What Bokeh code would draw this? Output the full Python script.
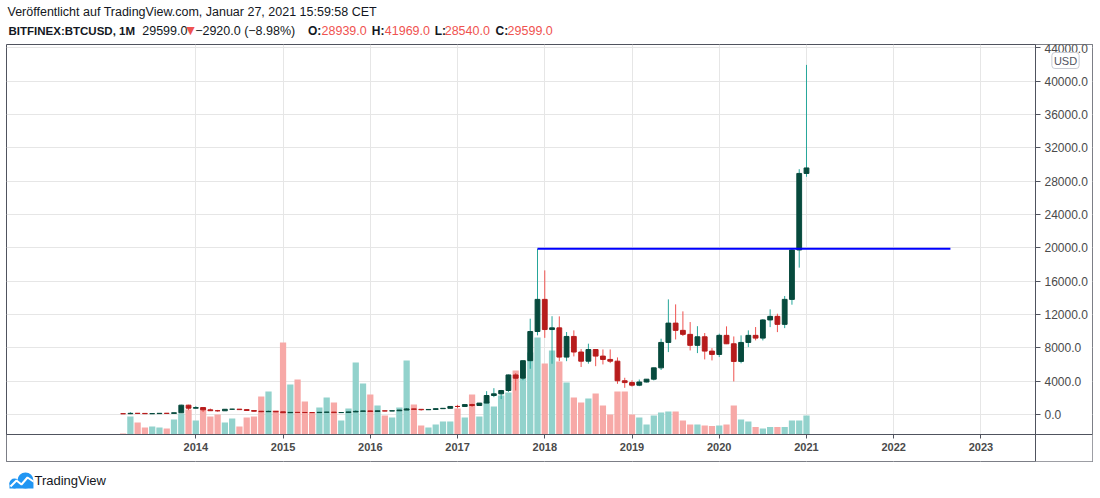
import pandas as pd
from bokeh.plotting import figure
from bokeh.models import (Range1d, FixedTicker, PrintfTickFormatter, Label, LinearAxis, Grid,
                          ColumnDataSource)
from bokeh.layouts import column
from bokeh.embed import file_html
from bokeh.resources import INLINE
from bokeh.core.properties import value

# ---------------- data (monthly BITFINEX:BTCUSD, Mar 2013 .. Jan 2021) ----------------
months = pd.date_range("2013-03-01", "2021-01-01", freq="MS").strftime("%Y-%m").tolist()

opens = [95, 93, 139, 129, 97, 106, 141, 133, 206, 1120,
         754, 830, 560, 455, 445, 627, 640, 585, 478, 388, 338, 378,
         320, 218, 254, 244, 236, 230, 263, 284, 230, 236, 314, 377,
         430, 369, 437, 416, 448, 531, 672, 620, 573, 605, 700, 742,
         965, 962, 1190, 1080, 1370, 2280, 2480, 2880, 4750, 4360, 6460, 9960,
         13820, 10200, 10400, 6890, 9370, 7500, 6400, 7800, 7010, 6610, 6400, 4050,
         3830, 3520, 3900, 4240, 5600, 8650, 10970, 10100, 9620, 8300, 9330, 7610,
         7210, 9500, 8490, 6370, 8650, 9500, 9170, 11350, 11780, 10820, 13820, 19750,
         28939]
highs = [100, 266, 140, 129, 111, 141, 145, 218, 1175, 1165,
         1000, 850, 710, 550, 630, 680, 655, 600, 490, 415, 460, 390,
         320, 270, 300, 260, 248, 268, 317, 288, 243, 333, 500, 470,
         463, 447, 440, 468, 550, 780, 705, 630, 620, 720, 750, 975,
         1155, 1200, 1300, 1380, 2800, 3160, 2950, 4800, 4975, 6470, 11500, 19891,
         17300, 11800, 11780, 9900, 10100, 7850, 8500, 7850, 7810, 7810, 6850, 4410,
         4100, 4200, 4250, 5620, 9100, 13820, 13220, 12380, 11100, 10600, 9780, 7970,
         9700, 10580, 9370, 9500, 10100, 10500, 11450, 12620, 12100, 14220, 19900, 29450,
         41969]
lows = [88, 50, 79, 88, 65, 100, 110, 120, 197, 522,
        740, 300, 440, 340, 420, 550, 565, 450, 350, 275, 315, 300,
        165, 210, 236, 215, 225, 222, 250, 197, 225, 236, 305, 350,
        350, 365, 400, 412, 440, 525, 605, 470, 570, 605, 680, 740,
        750, 920, 900, 1070, 1360, 2080, 1850, 2700, 2880, 4120, 5490, 9500,
        9200, 6090, 6400, 6400, 6970, 5700, 6100, 5800, 6010, 6170, 3680, 3200,
        3350, 3400, 3850, 4090, 5340, 7490, 9010, 9420, 7690, 7370, 6610, 6490,
        6890, 8450, 3970, 6150, 8090, 8900, 8890, 10490, 9890, 10370, 13180, 17630,
        28540]
closes = [93, 139, 129, 97, 106, 141, 133, 206, 1120, 754,
          830, 560, 455, 445, 627, 640, 585, 478, 388, 338, 378, 320,
          218, 254, 244, 236, 230, 263, 284, 230, 236, 314, 377, 430,
          369, 437, 416, 448, 531, 672, 620, 573, 605, 700, 742, 965,
          962, 1190, 1080, 1370, 2280, 2480, 2880, 4750, 4360, 6460, 9960, 13820,
          10200, 10400, 6890, 9370, 7500, 6400, 7800, 7010, 6610, 6400, 4050, 3830,
          3520, 3900, 4240, 5600, 8650, 10970, 10100, 9620, 8300, 9330, 7610, 7210,
          9500, 8490, 6370, 8650, 9500, 9170, 11350, 11780, 10820, 13820, 19750, 28939,
          29599]
volumes = [10, 180, 120, 70, 80, 70, 60, 150, 210, 250,
           140, 270, 180, 200, 120, 160, 80, 170, 180, 380, 430, 240,
           920, 500, 550, 330, 220, 270, 370, 320, 140, 260, 720, 510,
           400, 290, 190, 170, 270, 740, 300, 90, 70, 100, 130, 130,
           260, 170, 400, 180, 330, 280, 390, 420, 640, 560, 820, 970,
           710, 840, 730, 520, 370, 320, 360, 410, 290, 200, 430, 430,
           200, 170, 100, 190, 220, 230, 230, 140, 100, 100, 90, 85,
           90, 100, 290, 150, 130, 75, 60, 75, 75, 75, 140, 140,
           190]

year_labels = ["2014", "2015", "2016", "2017", "2018", "2019", "2020", "2021", "2022", "2023"]
price_ticks = [0, 4000, 8000, 12000, 16000, 20000, 24000, 28000, 32000, 36000, 40000, 44000]
resistance_level = 19891
resistance_from = "2017-12"
resistance_to_month = 113.8   # month index where the drawn line ends

header_line1 = "Veröffentlicht auf TradingView.com, Januar 27, 2021 15:59:58 CET"

# ---------------- derived ----------------
n = len(months)
idx = list(range(n))
up = [c >= o for o, c in zip(opens, closes)]
first_year, first_month = int(months[0][:4]), int(months[0][5:7])
year_pos = [(int(y) - first_year) * 12 + 1 - first_month for y in year_labels]

src = ColumnDataSource(dict(
    x=idx, open=opens, high=highs, low=lows, close=closes, volume=volumes,
    body_top=[max(o, c) for o, c in zip(opens, closes)],
    body_bot=[min(o, c) for o, c in zip(opens, closes)],
    body_color=["#074a3d" if u else "#b71c1c" for u in up],
    wick_color=["#26a69a" if u else "#ef5350" for u in up],
    vol_color=["#92d2cc" if u else "#f7a9a7" for u in up],
))

FONT = "Liberation Sans"
AX = "#50535e"
TXT = "#131722"
RED = "#ef5350"
W = 1088

# ---------------- header ----------------
head = figure(width=W, height=41, x_range=Range1d(0, W), y_range=Range1d(41, 0),
              output_backend="svg", toolbar_location=None, min_border=0,
              x_axis_location=None, y_axis_location=None)
head.grid.visible = False
head.outline_line_color = None


def htext(x, y, t, color=TXT, style="normal", size="12.5px", font=FONT):
    head.text(x=[x], y=[y], text=[t], text_color=color, text_font=value(font),
              text_font_style=style, text_font_size=size, text_baseline="middle")


htext(1, 9, header_line1, size="12.5px")
htext(2, 28, "BITFINEX:BTCUSD, 1M", style="bold", size="11.5px")
htext(136, 28, "29599.0")
htext(180, 28, "▼", color=RED, size="11px", font="DejaVu Sans")
htext(189, 28, "−2920.0 (−8.98%)")
htext(302, 28, "O:", style="bold", size="12px")
htext(315.6, 28, "28939.0", color=RED)
htext(366, 28, "H:", style="bold", size="12px")
htext(379, 28, "41969.0", color=RED)
htext(429, 28, "L:", style="bold", size="12px")
htext(439, 28, "28540.0", color=RED)
htext(490, 28, "C:", style="bold", size="12px")
htext(502, 28, "29599.0", color=RED)

# ---------------- main chart ----------------
# frame = whole pane (price area + both axis strips); axes sit at fixed locations inside it
PX_PER_MONTH = 7.27
PRICE_PER_PX = 120.05
X0 = -16.04
X1 = X0 + 1086 / PX_PER_MONTH
Y1 = 44418
Y0 = Y1 - 417 * PRICE_PER_PX
X_AXIS_AT = Y1 - 390 * PRICE_PER_PX        # price level of the time-axis line
Y_AXIS_AT = X0 + 1029 / PX_PER_MONTH       # month index of the price-axis line
VOL_PER_PX = 10

p = figure(width=W, height=419, x_range=Range1d(X0, X1), y_range=Range1d(Y0, Y1),
           x_axis_location=None, y_axis_location=None,
           output_backend="svg", toolbar_location=None,
           min_border_left=1, min_border_top=1, min_border_right=1, min_border_bottom=1)
p.extra_y_ranges = {"vol": Range1d(-27 * VOL_PER_PX, 390 * VOL_PER_PX)}
for g in p.grid:
    g.visible = False
p.outline_line_color = AX
p.outline_line_width = 1
p.background_fill_color = "white"
p.border_fill_color = "white"

p.add_layout(Grid(dimension=0, ticker=FixedTicker(ticks=year_pos), grid_line_color="#e6e6e6"))
p.add_layout(Grid(dimension=1, ticker=FixedTicker(ticks=price_ticks), grid_line_color="#e6e6e6"))

# white strips under the axes (hide grid lines there)
p.quad(left=[X0], right=[X1], bottom=[Y0], top=[X_AXIS_AT], fill_color="white", line_color=None)
p.quad(left=[Y_AXIS_AT], right=[X1], bottom=[Y0], top=[Y1], fill_color="white", line_color=None)

p.vbar(x="x", top="volume", bottom=0, width=0.86, fill_color="vol_color",
       line_color=None, y_range_name="vol", source=src)
p.segment(x0="x", y0="low", x1="x", y1="high", line_color="wick_color",
          line_width=1, source=src)
p.vbar(x="x", top="body_top", bottom="body_bot", width=0.66, fill_color="body_color",
       line_color="body_color", line_width=1, source=src)
p.segment(x0=[months.index(resistance_from)], y0=[resistance_level],
          x1=[resistance_to_month], y1=[resistance_level], line_color="#0000ff", line_width=2)

yaxis = LinearAxis(fixed_location=Y_AXIS_AT, ticker=FixedTicker(ticks=price_ticks),
                   formatter=PrintfTickFormatter(format="%.1f"))
xaxis = LinearAxis(fixed_location=X_AXIS_AT, ticker=FixedTicker(ticks=year_pos),
                   major_label_overrides={pos: lab for pos, lab in zip(year_pos, year_labels)})
for ax in (xaxis, yaxis):
    ax.axis_line_color = AX
    ax.major_tick_line_color = AX
    ax.minor_tick_line_color = None
    ax.major_tick_in = 0
    ax.major_label_text_font = FONT
    ax.major_label_text_color = "#4a4a4a"
yaxis.major_tick_out = 5
yaxis.major_label_standoff = 4
yaxis.major_label_text_font_size = "12px"
xaxis.major_tick_out = 4
xaxis.major_label_standoff = 4
xaxis.major_label_text_font_size = "11px"
xaxis.major_label_text_font_style = "bold"
p.add_layout(yaxis, "right")
p.add_layout(xaxis, "below")


# page pixel -> data coordinates (frame spans page x 6..1092, y 44..461)
def xd(px):
    return X0 + (px - 6) / PX_PER_MONTH


def yd(py):
    return Y1 - (py - 44) * PRICE_PER_PX


p.add_layout(Label(x=xd(1065), y=yd(60), text="USD", text_align="center", text_baseline="middle",
                   text_font=FONT, text_font_size="11px", text_color=AX,
                   background_fill_color="white", border_line_color="#c9ccd4",
                   border_radius=3, padding=2))

# ---------------- footer ----------------
foot = figure(width=W, height=33, x_range=Range1d(0, W), y_range=Range1d(33, 0),
              output_backend="svg", toolbar_location=None, min_border=0,
              x_axis_location=None, y_axis_location=None)
foot.grid.visible = False
foot.outline_line_color = None
foot.circle(x=[8, 19], y=[21, 18], radius=[5, 8], fill_color="#2196f3", line_color=None)
foot.quad(left=[3], right=[27], top=[20], bottom=[26], fill_color="#2196f3", line_color=None)
foot.line(x=[4, 10, 15, 21, 27], y=[24, 18, 22, 15, 19], line_color="white", line_width=2)
foot.text(x=[28], y=[18], text=["TradingView"], text_color=TXT, text_font=value(FONT),
          text_font_size="13px", text_baseline="middle")

layout = column(head, p, foot, spacing=0, styles={"margin-top": "2px", "margin-left": "5px"})

open("out.html", "w").write(file_html(layout, INLINE))
